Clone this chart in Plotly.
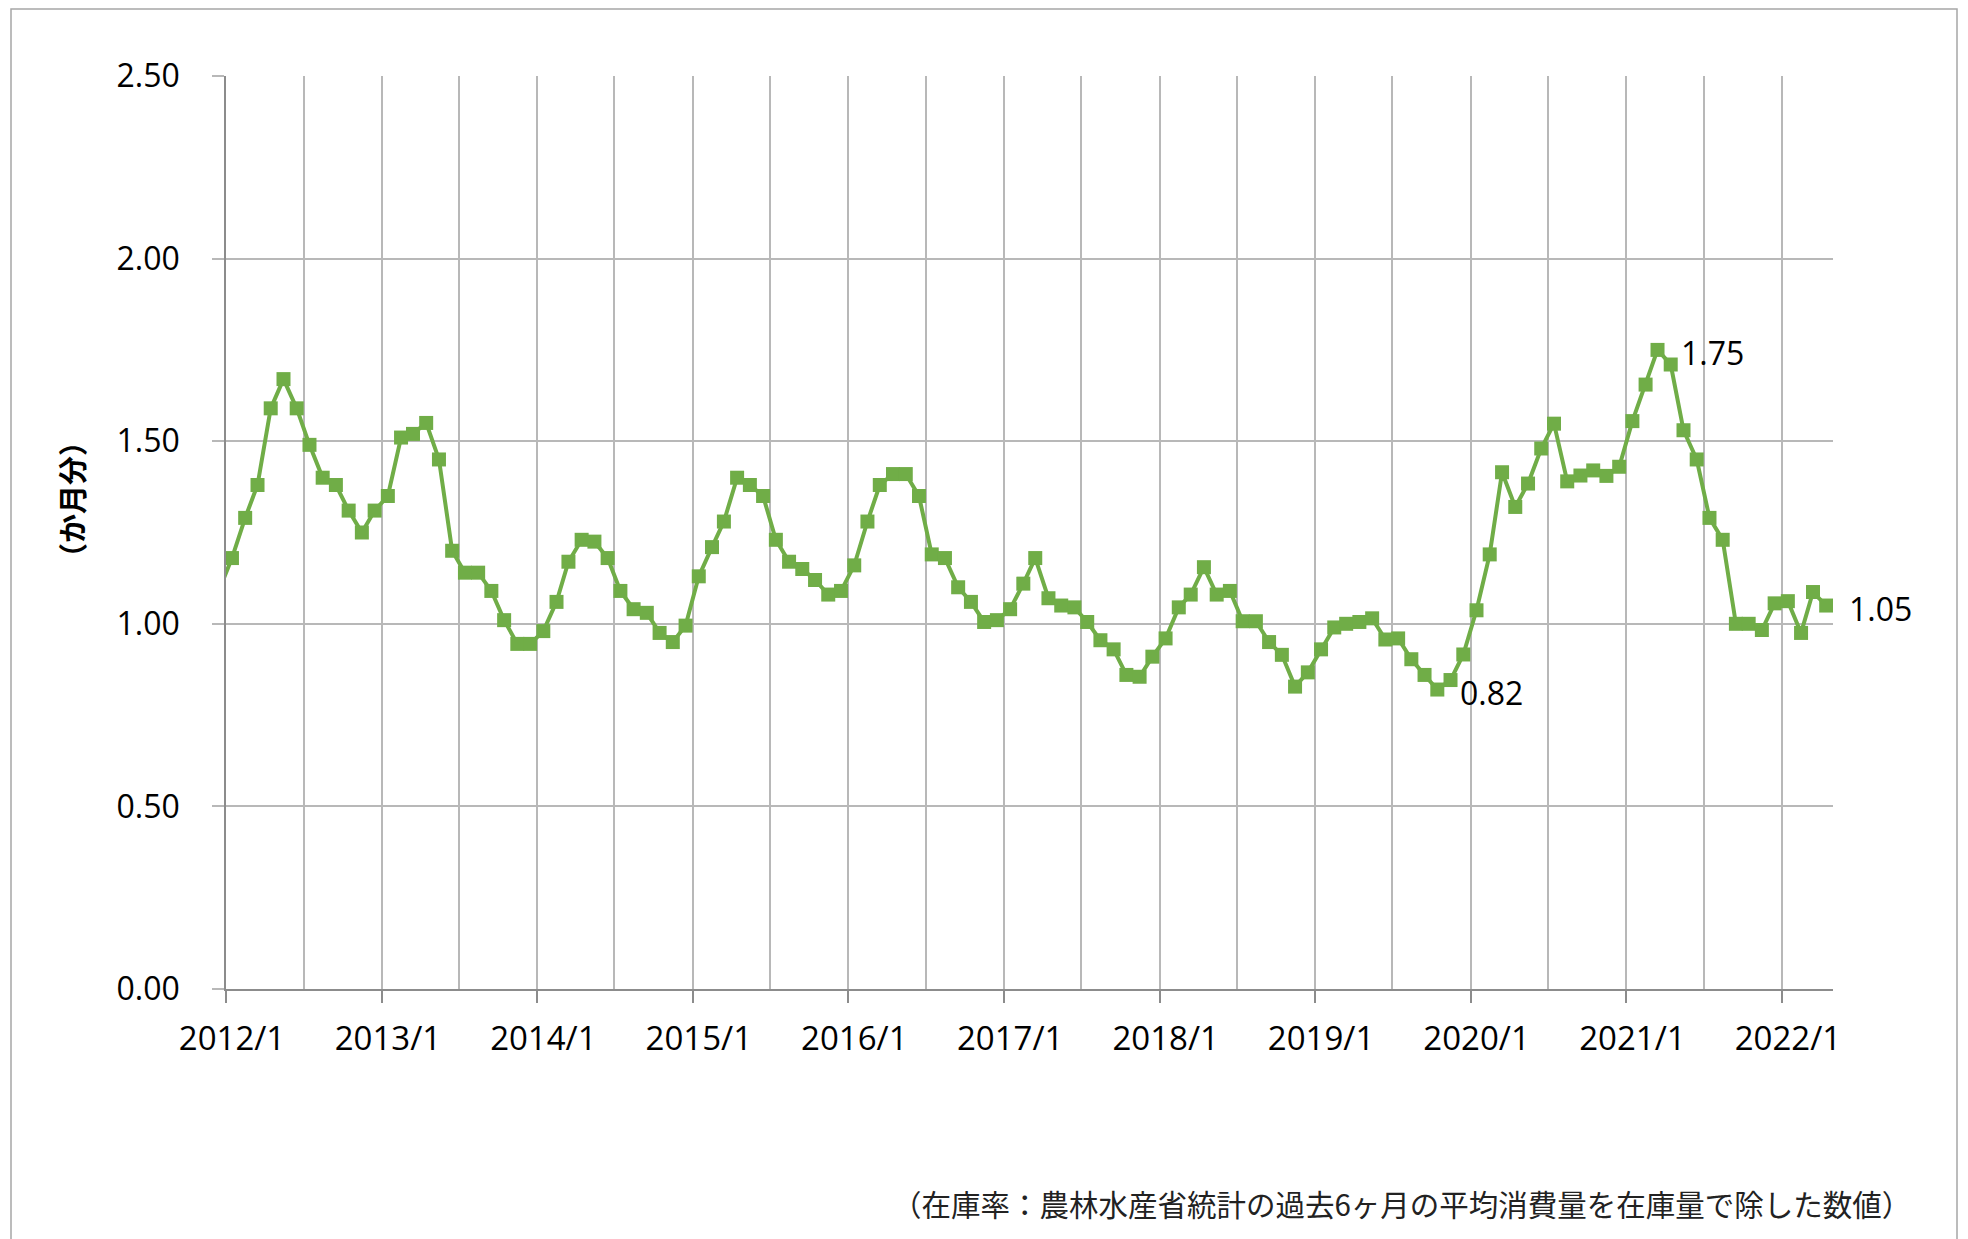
import pandas as pd
import plotly.graph_objects as go

# 在庫率 (か月分), monthly, 2011/12 .. 2022/4
# 2011/12 only feeds the line entering from the left edge of the axis
value_2011 = [1.09]
values_2012 = [1.18, 1.29, 1.38, 1.59, 1.67, 1.59, 1.49, 1.40, 1.38, 1.31, 1.25, 1.31]
values_2013 = [1.35, 1.51, 1.52, 1.55, 1.45, 1.20, 1.14, 1.14, 1.09, 1.01, 0.945, 0.945]
values_2014 = [0.98, 1.06, 1.17, 1.23, 1.225, 1.18, 1.09, 1.04, 1.03, 0.975, 0.95, 0.995]
values_2015 = [1.13, 1.21, 1.28, 1.40, 1.38, 1.35, 1.23, 1.17, 1.15, 1.12, 1.08, 1.09]
values_2016 = [1.16, 1.28, 1.38, 1.41, 1.41, 1.35, 1.19, 1.18, 1.10, 1.06, 1.005, 1.01]
values_2017 = [1.04, 1.11, 1.18, 1.07, 1.05, 1.045, 1.005, 0.955, 0.93, 0.86, 0.855, 0.91]
values_2018 = [0.96, 1.045, 1.08, 1.155, 1.08, 1.09, 1.007, 1.007, 0.95, 0.915, 0.828, 0.867]
values_2019 = [0.93, 0.99, 1.00, 1.005, 1.015, 0.957, 0.96, 0.903, 0.86, 0.82, 0.846, 0.916]
values_2020 = [1.037, 1.19, 1.415, 1.32, 1.384, 1.48, 1.548, 1.39, 1.406, 1.42, 1.405, 1.43]
values_2021 = [1.555, 1.655, 1.75, 1.71, 1.53, 1.45, 1.29, 1.23, 1.00, 1.00, 0.983, 1.056]
values_2022 = [1.062, 0.975, 1.087, 1.05]

stock_ratio = (value_2011 + values_2012 + values_2013 + values_2014 + values_2015
               + values_2016 + values_2017 + values_2018 + values_2019 + values_2020
               + values_2021 + values_2022)

# months, plotted at mid-month so the points sit between the half-year gridlines
months = pd.date_range("2011-12-01", periods=len(stock_ratio), freq="MS")
x_mid = months + pd.Timedelta(days=14)

# x tick labels, one per year
tick_years = list(range(2012, 2023))
tick_vals = [f"{y}-01-01" for y in tick_years]
tick_text = [f"{y}/1" for y in tick_years]

# points that carry a value label
label_months = ["2019-10", "2021-03", "2022-04"]

y_title = "（か月分）"
footnote = "（在庫率：農林水産省統計の過去6ヶ月の平均消費量を在庫量で除した数値）"

GREEN = "#70AD47"
GRID = "#B8B8B8"
AXIS = "#8C8C8C"
FONT = "Open Sans"
CJK = "Noto Sans CJK JP"

# the page body adds an 8px margin, so the figure is 8px smaller than the window
W, H = 1960, 1231
L, R, T, B = 218, 135, 68, 250
PW, PH = W - L - R, H - T - B


def px_x(x):
    """Figure pixel x -> paper fraction."""
    return (x - L) / PW


def px_y(y):
    """Figure pixel y (from top) -> paper fraction."""
    return (H - B - y) / PH


fig = go.Figure()

# main series
fig.add_trace(go.Scatter(
    x=x_mid,
    y=stock_ratio,
    mode="lines+markers",
    line=dict(color=GREEN, width=4),
    marker=dict(symbol="square", size=14, color=GREEN),
    cliponaxis=True,
    showlegend=False,
))

# value labels to the right of the chosen points
month_keys = [m.strftime("%Y-%m") for m in months]
for m in label_months:
    i = month_keys.index(m)
    fig.add_annotation(
        x=x_mid[i], y=stock_ratio[i],
        xref="x", yref="y",
        text=f"{stock_ratio[i]:.2f}",
        xanchor="left", yanchor="middle",
        xshift=21, yshift=-3,
        showarrow=False,
        font=dict(family=FONT, size=32, color="#000000"),
    )

fig.update_xaxes(
    type="date",
    range=["2012-01-01", "2022-05-01"],
    tickmode="array",
    tickvals=tick_vals,
    ticktext=tick_text,
    ticks="outside",
    ticklen=12,
    tickwidth=1.5,
    tickcolor=AXIS,
    ticklabelshift=6,
    ticklabelstandoff=8,
    tickfont=dict(family=FONT, size=33, color="#000000"),
    showgrid=True,
    gridcolor=GRID,
    gridwidth=1.5,
    minor=dict(tick0="2012-01-01", dtick="M6", showgrid=True,
               gridcolor=GRID, gridwidth=1.5, ticks=""),
    showline=True,
    linecolor=AXIS,
    linewidth=1.5,
    zeroline=False,
)

fig.update_yaxes(
    range=[0, 2.5],
    tick0=0,
    dtick=0.5,
    tickformat=".2f",
    ticks="outside",
    ticklen=12,
    tickwidth=1.5,
    tickcolor=GRID,
    ticklabelstandoff=26,
    tickfont=dict(family=FONT, size=32, color="#000000"),
    showgrid=True,
    gridcolor=GRID,
    gridwidth=1.5,
    showline=True,
    linecolor=AXIS,
    linewidth=1.5,
    zeroline=False,
)

# y-axis title, rotated, sitting a little above the middle of the axis
fig.add_annotation(
    text=y_title,
    xref="paper", yref="paper",
    x=px_x(63), y=px_y(492),
    xanchor="center", yanchor="middle",
    textangle=-90,
    showarrow=False,
    font=dict(family=CJK, size=29, color="#000000", weight="bold"),
)

# footnote under the chart
fig.add_annotation(
    text=footnote,
    xref="paper", yref="paper",
    x=px_x(1905), y=px_y(1195),
    xanchor="right", yanchor="middle",
    showarrow=False,
    font=dict(family=CJK, size=29.5, color="#222222"),
)

# thin frame round the whole chart (bottom edge runs off the page)
fig.add_shape(
    type="rect",
    xref="paper", yref="paper",
    x0=px_x(3), x1=px_x(1949),
    y0=px_y(1), y1=-0.6,
    line=dict(color="#A6A6A6", width=1.5),
    layer="below",
)

fig.update_layout(
    width=W,
    height=H,
    margin=dict(l=L, r=R, t=T, b=B),
    plot_bgcolor="white",
    paper_bgcolor="white",
    font=dict(family=FONT, color="#000000"),
)

fig.write_html("out.html")
